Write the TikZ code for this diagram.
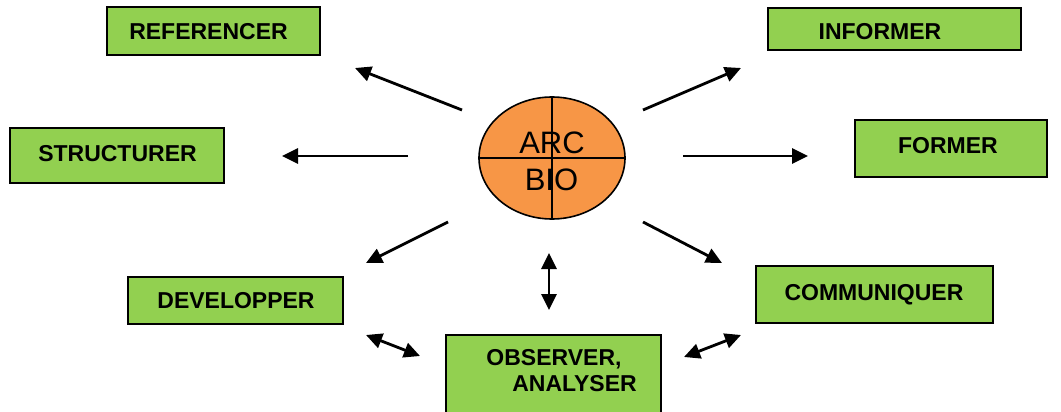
\documentclass[tikz,border=0pt]{standalone}
\usepackage{fontspec}
\setmainfont{Liberation Sans}
\usetikzlibrary{arrows.meta,shapes.geometric}
\definecolor{boxgreen}{HTML}{92D050}
\definecolor{ellorange}{HTML}{F79646}
\begin{document}
\begin{tikzpicture}[x=1pt,y=-1pt,
  box/.style={draw=black, line width=1.8pt, fill=boxgreen, inner sep=0pt},
  lbl/.style={inner sep=0pt, anchor=base, font=\fontsize{23}{26}\selectfont\bfseries},
  big/.style={inner sep=0pt, anchor=base, font=\fontsize{31}{34}\selectfont},
  conn/.style={line width=2.8pt, -{Triangle[length=16pt,width=15pt]}},
  dconn/.style={line width=2.8pt, {Triangle[length=16pt,width=15pt]}-{Triangle[length=16pt,width=15pt]}}
]
\clip (0,0) rectangle (1061,412);
\useasboundingbox (0,0) rectangle (1061,412);
\fill[white] (0,0) rectangle (1061,412);

% boxes
\node[box, minimum width=213pt, minimum height=48pt] (ref) at (213.5,31) {};
\node[box, minimum width=253pt, minimum height=42pt] (inf) at (894.5,29) {};
\node[box, minimum width=214pt, minimum height=55pt] (str) at (117,155.5) {};
\node[box, minimum width=192pt, minimum height=57pt] (frm) at (951,148.5) {};
\node[box, minimum width=215pt, minimum height=47pt] (dev) at (235.5,300.5) {};
\node[box, minimum width=237pt, minimum height=57pt] (com) at (874.5,294.5) {};
\node[box, minimum width=215pt, minimum height=85pt] (obs) at (553.5,377.5) {};

% labels
\node[lbl] (ref-t) at (208.5,40) {REFERENCER};
\node[lbl] (inf-t) at (880,40) {INFORMER};
\node[lbl] (str-t) at (117.5,161) {STRUCTURER};
\node[lbl] (frm-t) at (948,153) {FORMER};
\node[lbl] (dev-t) at (236,308) {DEVELOPPER};
\node[lbl] (com-t) at (874,300) {COMMUNIQUER};
\node[lbl] (obs-t1) at (554,365) {OBSERVER,};
\node[lbl] (obs-t2) at (574.5,391) {ANALYSER};

% centre ellipse
\node[draw=black, line width=1.6pt, fill=ellorange, ellipse, inner sep=0pt,
      minimum width=146pt, minimum height=122pt] (bio) at (552,158) {};
\draw[line width=1.6pt] (bio.west) -- (bio.east);
\draw[line width=1.6pt] (bio.north) -- (bio.south);
\node[big] (arc-t) at (552,153) {ARC};
\node[big] (bio-t) at (551.5,190) {BIO};

% arrow end points
\coordinate (a1s) at (462,110);  \coordinate (a1e) at (355,68);
\coordinate (a2s) at (408,156);  \coordinate (a2e) at (282,156);
\coordinate (a3s) at (448,222);  \coordinate (a3e) at (366,263);
\coordinate (a4s) at (549,253);  \coordinate (a4e) at (549,310);
\coordinate (a5s) at (366,335);  \coordinate (a5e) at (420,356);
\coordinate (a6s) at (684,357);  \coordinate (a6e) at (741,335);
\coordinate (a7s) at (643,222);  \coordinate (a7e) at (722,263);
\coordinate (a8s) at (683,156);  \coordinate (a8e) at (808,156);
\coordinate (a9s) at (643,110);  \coordinate (a9e) at (741,68);

\draw[conn] (a1s) -- (a1e);
\draw[conn] (a2s) -- (a2e);
\draw[conn] (a3s) -- (a3e);
\draw[dconn] (a4s) -- (a4e);
\draw[dconn] (a5s) -- (a5e);
\draw[dconn] (a6s) -- (a6e);
\draw[conn] (a7s) -- (a7e);
\draw[conn] (a8s) -- (a8e);
\draw[conn] (a9s) -- (a9e);
\end{tikzpicture}
\end{document}
